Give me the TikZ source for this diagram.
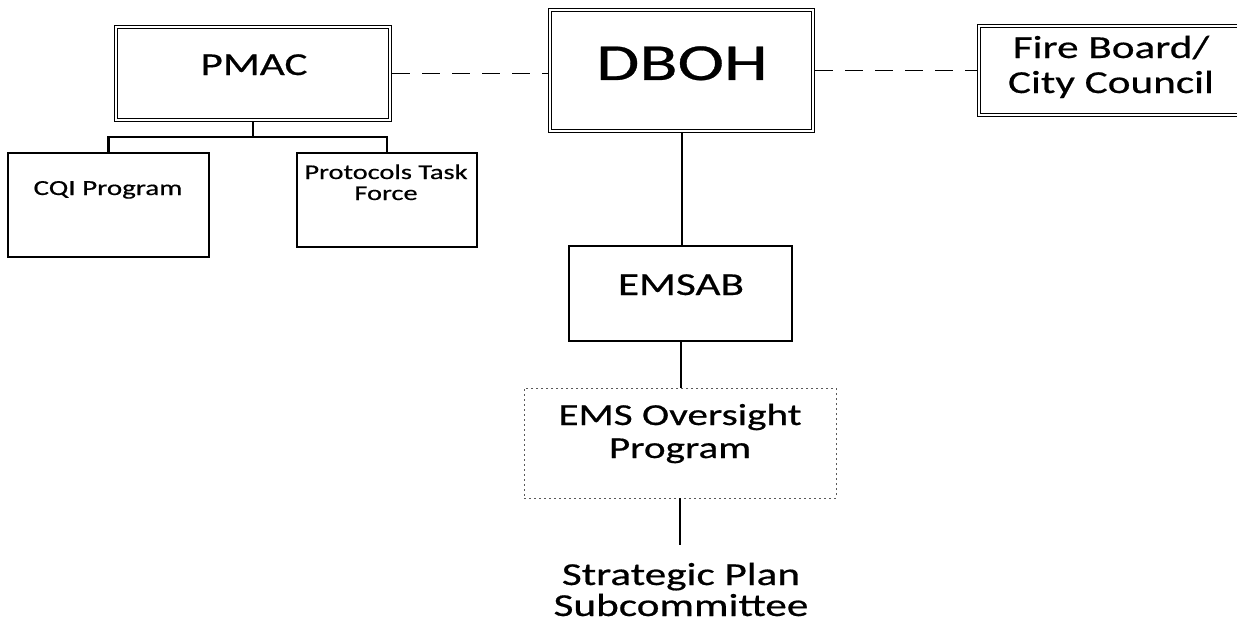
\documentclass[tikz,border=0pt]{standalone}
\usepackage{fontspec}
\setmainfont{Carlito}[FakeBold=0.5]
\begin{document}
\begin{tikzpicture}[x=1pt,y=-1pt,
  dblbox/.style={draw, double, double distance=2.2pt, line width=0.9pt, inner sep=0pt, outer sep=2pt},
  box/.style={draw, line width=1.2pt, inner sep=0pt},
  dotbox/.style={draw=black!65, line width=0.7pt, dash pattern=on 2pt off 3pt, inner sep=0pt},
  txt/.style={inner sep=0pt, xscale=1.35, align=center},
  dashlink/.style={line width=1.2pt, dash pattern=on 18pt off 12pt},
  tree/.style={line width=2.8pt},
  link/.style={line width=2pt}]
\useasboundingbox (0,0) rectangle (1237,626);
% boxes
\node[dblbox, minimum width=274pt, minimum height=93pt] (pmac) at (253,73.5) {};
\node[dblbox, minimum width=263pt, minimum height=121pt] (dboh) at (681.5,70.5) {};
\node[dblbox, minimum width=281pt, minimum height=89pt] (fire) at (1119.5,70.5) {};
\node[box, minimum width=201pt, minimum height=104pt] (cqi) at (108.5,205) {};
\node[box, minimum width=180pt, minimum height=94pt] (prot) at (387,200) {};
\node[box, minimum width=223pt, minimum height=95pt] (emsab) at (680.5,293.5) {};
\node[dotbox, minimum width=312pt, minimum height=110pt] (ems) at (680,443) {};
\coordinate (send) at (681,545);
% texts
\node[txt, font=\fontsize{32}{38}\selectfont, anchor=base] (tpmac) at (254,75) {PMAC};
\node[txt, font=\fontsize{52}{60}\selectfont, anchor=base] (tdboh) at (682,80) {DBOH};
\node[txt, font=\fontsize{32}{35}\selectfont, anchor=base] (tfire) at (1111,93) {Fire Board/\\City Council};
\node[txt, font=\fontsize{21.5}{25}\selectfont, anchor=base] (tcqi) at (108,195) {CQI Program};
\node[txt, font=\fontsize{21}{21}\selectfont, anchor=base] (tprot) at (386,200) {Protocols Task\\Force};
\node[txt, font=\fontsize{32}{38}\selectfont, anchor=base] (temsab) at (681,295) {EMSAB};
\node[txt, font=\fontsize{30.5}{33}\selectfont, anchor=base] (tems) at (680,458) {EMS Oversight\\Program};
\node[txt, font=\fontsize{32}{31}\selectfont, anchor=base] (tstrat) at (681,616) {Strategic Plan\\Subcommittee};
% connectors
\draw[dashlink] (pmac.east) -- (pmac.east -| dboh.west);
\draw[dashlink] (dboh.east |- fire.west) -- (fire.west);
\draw[tree] (pmac.south) -- ++(0,15) coordinate (j);
\draw[tree] (cqi.north) |- (j) -| (prot.north);
\draw[link] (dboh.south) -- (dboh.south |- emsab.north);
\draw[link] (emsab.south) -- (emsab.south |- ems.north);
\draw[link] (ems.south) -- (ems.south |- send);
\end{tikzpicture}
\end{document}
